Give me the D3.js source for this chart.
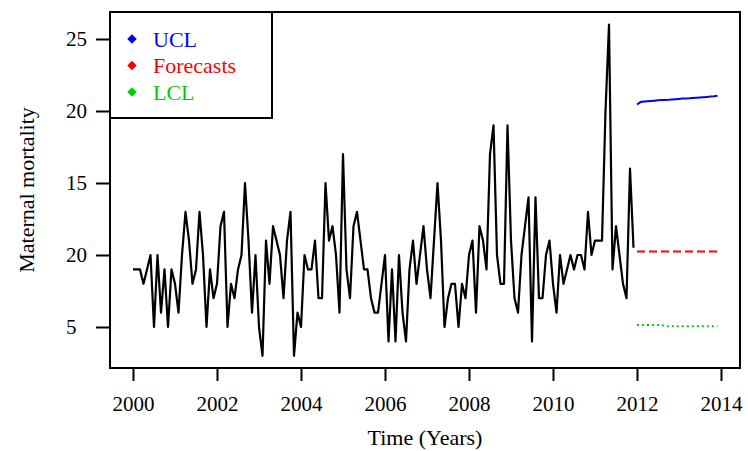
<!DOCTYPE html>
<html><head><meta charset="utf-8">
<script src="https://cdn.jsdelivr.net/npm/d3@7/dist/d3.min.js"></script>
<style>
body{margin:0;background:#fff}
svg{display:block}
text{font-family:"Liberation Serif","Times New Roman",serif;fill:#000}
</style>
</head><body>
<svg id="chart" width="748" height="451"></svg>
<script>
// ---------- data ----------
const startYear = 2000;           // series begins January 2000, monthly
const maternalMortality = [
  9, 9, 9, 8, 9, 10, 5, 10, 6, 9, 5, 9, 8, 6, 10, 13, 11, 8, 9, 13, 10, 5, 9, 7,
  8, 12, 13, 5, 8, 7, 9, 10, 15, 11, 6, 10, 5, 3, 11, 8, 12, 11, 10, 7, 11, 13, 3, 6,
  5, 10, 9, 9, 11, 7, 7, 15, 11, 12, 10, 6, 17, 9, 7, 12, 13, 11, 9, 9, 7, 6, 6, 8,
  10, 4, 9, 4, 10, 6, 4, 9, 11, 8, 10, 12, 9, 7, 11, 15, 11, 5, 7, 8, 8, 5, 8, 7,
  10, 11, 6, 12, 11, 9, 17, 19, 10, 8, 8, 19, 11, 7, 6, 10, 12, 14, 4, 14, 7, 7, 10, 11,
  8, 6, 10, 8, 9, 10, 9, 10, 10, 9, 13, 10, 11, 11, 11, 20, 26, 9, 12, 10, 8, 7, 16, 10.5
];
const forecastStart = 2012;       // forecasts begin January 2012, monthly
const uclValues = [20.45, 20.62, 20.66, 20.68, 20.7, 20.72, 20.74, 20.76, 20.77, 20.78, 20.8, 20.82,
                   20.84, 20.86, 20.87, 20.88, 20.9, 20.92, 20.94, 20.96, 20.98, 21.0, 21.02, 21.06];
const forecastValues = [10.25, 10.25, 10.25, 10.25, 10.25, 10.25, 10.25, 10.25, 10.25, 10.25, 10.25, 10.25,
                        10.25, 10.25, 10.25, 10.25, 10.25, 10.25, 10.25, 10.25, 10.25, 10.25, 10.25, 10.25];
const lclValues = [5.14, 5.14, 5.14, 5.14, 5.14, 5.14, 5.14, 5.14, 5.06, 5.06, 5.06, 5.06,
                   5.06, 5.06, 5.06, 5.06, 5.06, 5.06, 5.06, 5.06, 5.06, 5.06, 5.06, 5.06];
const xTickValues = [2000, 2002, 2004, 2006, 2008, 2010, 2012, 2014];
const yTickValues = [5, 10, 15, 20, 25];
const yTickLabels = ["5", "20", "15", "20", "25"];
const legendLabels = ["UCL", "Forecasts", "LCL"];
const legendColors = ["#0000ff", "#ff0000", "#00cd00"];

// ---------- layout ----------
const svg = d3.select("#chart");
const box = {left: 110, right: 740, top: 12, bottom: 368};

const x = d3.scaleLinear().domain([2000, 2014]).range([133, 721]);
const y = d3.scaleLinear().domain([5, 25]).range([327, 39]);

const series = maternalMortality.map((v, i) => ({t: startYear + i / 12, v}));
const mk = arr => arr.map((v, i) => ({t: forecastStart + i / 12, v}));

const line = d3.line().x(d => x(d.t)).y(d => y(d.v));

// series
svg.append("path").datum(series)
  .attr("d", line).attr("fill", "none").attr("stroke", "#000")
  .attr("stroke-width", 2.2).attr("stroke-linejoin", "round");

svg.append("path").datum(mk(uclValues))
  .attr("d", line).attr("fill", "none").attr("stroke", legendColors[0]).attr("stroke-width", 2);
svg.append("path").datum(mk(forecastValues))
  .attr("d", line).attr("fill", "none").attr("stroke", legendColors[1]).attr("stroke-width", 2)
  .attr("stroke-dasharray", "8,4");
svg.append("path").datum(mk(lclValues))
  .attr("d", line).attr("fill", "none").attr("stroke", legendColors[2]).attr("stroke-width", 2)
  .attr("stroke-dasharray", "2,3");

// axes
const xAxis = svg.append("g").attr("transform", `translate(0,${box.bottom})`)
  .call(d3.axisBottom(x).tickValues(xTickValues).tickFormat(d3.format("d")).tickSize(13).tickPadding(15));
xAxis.select(".domain").remove();
xAxis.selectAll("line").attr("stroke-width", 2);
xAxis.selectAll("text").attr("font-size", 21).attr("font-family", "Liberation Serif");

const yAxis = svg.append("g").attr("transform", `translate(${box.left},0)`)
  .call(d3.axisLeft(y).tickValues(yTickValues).tickFormat((d, i) => yTickLabels[i]).tickSize(14));
yAxis.select(".domain").remove();
yAxis.selectAll("line").attr("stroke-width", 2);
yAxis.selectAll("text").attr("font-size", 21).attr("font-family", "Liberation Serif")
  .attr("text-anchor", "start").attr("x", -44);

// frame
svg.append("rect").attr("x", box.left).attr("y", box.top)
  .attr("width", box.right - box.left).attr("height", box.bottom - box.top)
  .attr("fill", "none").attr("stroke", "#000").attr("stroke-width", 2);

// titles
svg.append("text").attr("x", (box.left + box.right) / 2).attr("y", 445)
  .attr("text-anchor", "middle").attr("font-size", 22).text("Time (Years)");
svg.append("text").attr("transform", `translate(34,${(box.top + box.bottom) / 2}) rotate(-90)`)
  .attr("text-anchor", "middle").attr("font-size", 22).text("Maternal mortality");

// legend
const lg = svg.append("g");
lg.append("rect").attr("x", box.left).attr("y", box.top).attr("width", 162).attr("height", 106)
  .attr("fill", "#fff").attr("stroke", "#000").attr("stroke-width", 2);
const items = lg.selectAll("g.item").data(legendLabels).join("g").attr("class", "item")
  .attr("transform", (d, i) => `translate(0,${39 + i * 26.5})`);
items.append("path").attr("d", d3.symbol(d3.symbolSquare, 45))
  .attr("transform", "translate(132,0) rotate(45)")
  .attr("fill", (d, i) => legendColors[i]);
items.append("text").attr("x", 153).attr("y", 7.5).attr("font-size", 22)
  .style("fill", (d, i) => legendColors[i]).text(d => d);
</script>
</body></html>
